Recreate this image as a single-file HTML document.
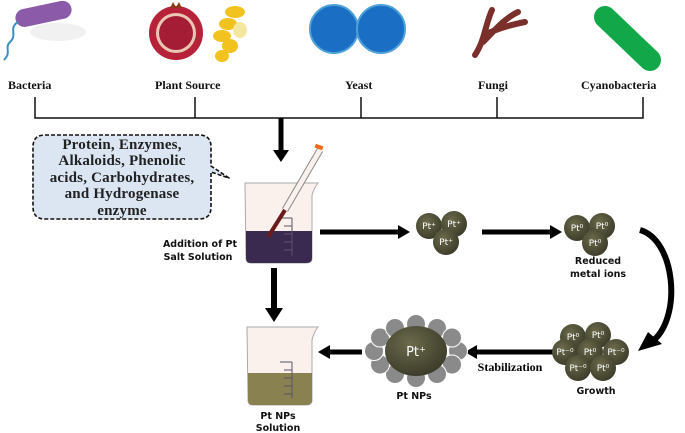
<!DOCTYPE html>
<html><head><meta charset="utf-8"><style>body{margin:0;background:#fff}svg{display:block}</style></head><body>
<svg width="685" height="433" viewBox="0 0 685 433" xmlns="http://www.w3.org/2000/svg">
<defs>
<radialGradient id="ol" cx="40%" cy="35%" r="70%"><stop offset="0" stop-color="#6b6a4c"/><stop offset="1" stop-color="#3a3a28"/></radialGradient>
</defs>
<!-- icons -->
<ellipse cx="58" cy="32" rx="28" ry="9" fill="#e4e4e4" opacity="0.5"/>
<rect x="15" y="5" width="57" height="18" rx="9" fill="#8b5aa8" transform="rotate(-12 43 14)"/>
<path d="M18,22 C8,28 18,35 10,42 C4,48 12,52 4,60" stroke="#3a8fbf" stroke-width="2" fill="none"/>
<circle cx="176" cy="33" r="27" fill="#b5223a"/>
<circle cx="176" cy="33" r="20" fill="#e9c7b5"/>
<circle cx="176" cy="33" r="17" fill="#a51d35"/>
<path d="M170,8 l3,-6 l3,5 l3,-5 l3,6 z" fill="#8c3a1a"/>
<g fill="#f2c21e"><ellipse cx="235" cy="12" rx="10" ry="6"/><ellipse cx="228" cy="24" rx="9" ry="6"/><ellipse cx="222" cy="36" rx="9" ry="6"/><ellipse cx="240" cy="30" rx="7" ry="8" fill="#f5e6a0"/><ellipse cx="230" cy="46" rx="8" ry="7"/><ellipse cx="222" cy="56" rx="7" ry="6"/></g>
<circle cx="334" cy="29" r="24" fill="#1a6fc4" stroke="#4da0d8" stroke-width="2"/>
<circle cx="381" cy="29" r="24" fill="#1a6fc4" stroke="#4da0d8" stroke-width="2"/>
<path d="M475,55 C485,40 485,25 492,10 M483,42 C495,30 505,18 518,12 M486,34 C500,28 510,25 525,22" stroke="#7a2f2a" stroke-width="6" fill="none" stroke-linecap="round"/>
<line x1="605" y1="17" x2="650" y2="60" stroke="#12a84a" stroke-width="22" stroke-linecap="round"/>
<!-- labels -->
<g font-family="Liberation Serif,serif" font-weight="bold" font-size="12" fill="#111">
<text x="8" y="89">Bacteria</text><text x="155" y="89">Plant Source</text><text x="345" y="89">Yeast</text><text x="478" y="89">Fungi</text><text x="581" y="89">Cyanobacteria</text></g>
<g stroke="#111" stroke-width="1.5" fill="none"><path d="M35,97 V118 H643 V97 M195,97 V118 M361,97 V118 M497,97 V118"/></g>
<line x1="281" y1="118" x2="281" y2="152" stroke="#000" stroke-width="5"/><path d="M273,150 L289,150 L281,162 z"/>
<!-- bubble -->
<path d="M45,135 H199 Q211,135 211,147 V166 L229,178 L211,172 V207 Q211,219 199,219 H45 Q33,219 33,207 V147 Q33,135 45,135 Z" fill="#dce6f2" stroke="#111" stroke-width="1.6" stroke-dasharray="4,2" stroke-linejoin="round"/>
<g font-family="Liberation Serif,serif" font-weight="bold" font-size="15" fill="#222" text-anchor="middle" letter-spacing="0.2">
<text x="122" y="149">Protein, Enzymes,</text><text x="122" y="165">Alkaloids, Phenolic</text><text x="122" y="182">acids, Carbohydrates,</text><text x="122" y="198">and Hydrogenase</text><text x="122" y="215">enzyme</text></g>
<!-- beaker 1 -->
<path d="M245,183 H318 Q314,188 312,195 V258 Q312,263 306,263 H251 Q246,263 246,258 Z" fill="#fbf1ec" stroke="#aaa" stroke-width="1"/>
<path d="M246,231 H312 V258 Q312,263 306,263 H251 Q246,263 246,258 Z" fill="#3b2a4f"/>
<g stroke="#556" stroke-width="1"><line x1="280" y1="218" x2="292" y2="218"/><line x1="284" y1="226" x2="292" y2="226"/><line x1="284" y1="234" x2="292" y2="234"/><line x1="284" y1="242" x2="292" y2="242"/><line x1="284" y1="250" x2="292" y2="250"/><line x1="292" y1="218" x2="292" y2="256"/></g>
<line x1="320" y1="150" x2="285" y2="210" stroke="#888" stroke-width="7"/><line x1="320" y1="150" x2="285" y2="210" stroke="#fbf1ec" stroke-width="5"/>
<line x1="285" y1="210" x2="268" y2="237" stroke="#6b1a1a" stroke-width="4"/>
<rect x="315" y="145" width="8" height="4" fill="#f26a1b" transform="rotate(20 319 147)"/>
<g font-family="DejaVu Sans,sans-serif" font-weight="bold" font-size="9.5" fill="#111" text-anchor="middle">
<text x="200" y="247">Addition of Pt</text><text x="198" y="260">Salt Solution</text>
<text x="278" y="419">Pt NPs</text><text x="278" y="431">Solution</text>
<text x="598" y="264">Reduced</text><text x="598" y="277">metal ions</text>
<text x="596" y="394">Growth</text><text x="414" y="399">Pt NPs</text></g>
<!-- down arrow -->
<line x1="274" y1="268" x2="274" y2="310" stroke="#000" stroke-width="6"/><path d="M265,308 L283,308 L274,322 z"/>
<!-- beaker 2 -->
<path d="M247,327 H318 Q314,332 312,340 V400 Q312,405 306,405 H253 Q248,405 248,400 Z" fill="#fbf1ec" stroke="#aaa" stroke-width="1"/>
<path d="M248,373 H312 V400 Q312,405 306,405 H253 Q248,405 248,400 Z" fill="#8a8150"/>
<g stroke="#556" stroke-width="1"><line x1="280" y1="362" x2="292" y2="362"/><line x1="284" y1="370" x2="292" y2="370"/><line x1="284" y1="378" x2="292" y2="378"/><line x1="284" y1="386" x2="292" y2="386"/><line x1="284" y1="394" x2="292" y2="394"/><line x1="292" y1="362" x2="292" y2="398"/></g>
<!-- arrows -->
<line x1="320" y1="232" x2="400" y2="232" stroke="#000" stroke-width="5"/><path d="M398,225 L410,232 L398,239 z"/>
<line x1="482" y1="232" x2="552" y2="232" stroke="#000" stroke-width="5"/><path d="M550,225 L562,232 L550,239 z"/>
<path d="M640,230 C675,240 682,315 654,340" stroke="#000" stroke-width="6" fill="none"/><path d="M638,351 L648,332 L662,344 z"/>
<line x1="555" y1="352" x2="475" y2="352" stroke="#000" stroke-width="5"/><path d="M477,345 L465,352 L477,359 z"/>
<line x1="362" y1="352" x2="328" y2="352" stroke="#000" stroke-width="5"/><path d="M330,345 L318,352 L330,359 z"/>
<text x="510" y="371" font-family="Liberation Serif,serif" font-weight="bold" font-size="12" text-anchor="middle">Stabilization</text>
<!-- clusters -->
<g fill="url(#ol)"><circle cx="429" cy="226" r="13"/><circle cx="454" cy="224" r="13"/><circle cx="446" cy="242" r="13"/>
<circle cx="577" cy="228" r="13"/><circle cx="602" cy="226" r="13"/><circle cx="595" cy="243" r="13"/>
<circle cx="573" cy="337" r="13"/><circle cx="598" cy="335" r="13"/><circle cx="565" cy="352" r="13"/><circle cx="590" cy="352" r="13"/><circle cx="616" cy="352" r="13"/><circle cx="578" cy="368" r="13"/><circle cx="603" cy="368" r="13"/></g>
<g font-family="DejaVu Sans,sans-serif" font-size="9" fill="#fff" text-anchor="middle">
<text x="429" y="229">Pt⁺</text><text x="454" y="227">Pt⁺</text><text x="446" y="245">Pt⁺</text>
<text x="577" y="231">Pt⁰</text><text x="602" y="229">Pt⁰</text><text x="595" y="246">Pt⁰</text>
<text x="573" y="340">Pt⁰</text><text x="598" y="338">Pt⁰</text><text x="565" y="355">Pt⁻⁰</text><text x="590" y="355">Pt⁰</text><text x="616" y="355">Pt⁻⁰</text><text x="578" y="371">Pt⁻⁰</text><text x="603" y="371">Pt⁰</text></g>
<g fill="#8a8a8a" stroke="#fff" stroke-width="1"><circle cx="458" cy="351" r="9.5"/><circle cx="452" cy="364.5" r="9.5"/><circle cx="437" cy="374" r="9.5"/><circle cx="416" cy="378" r="9.5"/><circle cx="395" cy="374" r="9.5"/><circle cx="380" cy="364.5" r="9.5"/><circle cx="374" cy="351" r="9.5"/><circle cx="380" cy="337.5" r="9.5"/><circle cx="395" cy="328" r="9.5"/><circle cx="416" cy="324" r="9.5"/><circle cx="437" cy="328" r="9.5"/><circle cx="452" cy="337.5" r="9.5"/></g>
<ellipse cx="416" cy="351" rx="31" ry="25" fill="url(#ol)"/>
<text x="416" y="356" font-family="DejaVu Sans,sans-serif" font-size="13" fill="#fff" text-anchor="middle">Pt⁺</text>
</svg>
</body></html>
